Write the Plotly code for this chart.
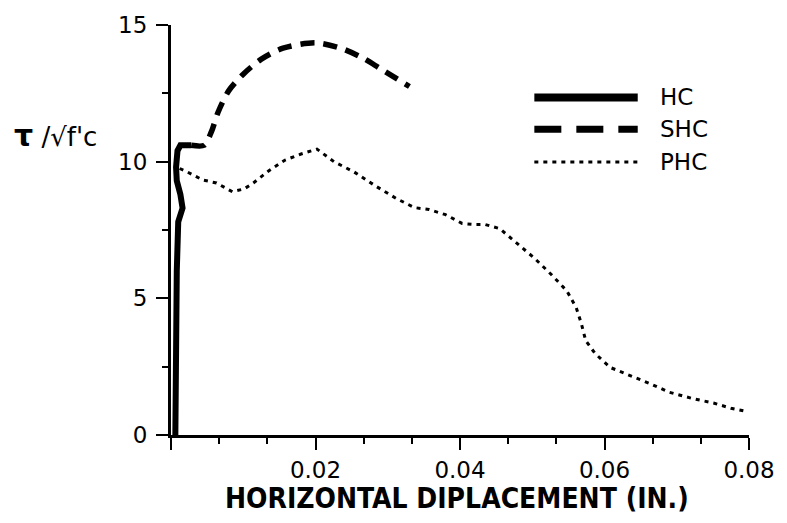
import plotly.graph_objects as go

# ---- data ----
hc_x = [0.0006, 0.0006, 0.0008, 0.0010, 0.0016, 0.0013, 0.0008, 0.0007, 0.0009, 0.0013, 0.0028]
hc_y = [0.0, 4.4, 6.0, 7.8, 8.3, 8.8, 9.3, 9.8, 10.4, 10.6, 10.6]

shc_x = [0.0028, 0.0046, 0.0056, 0.0065, 0.0080, 0.0100, 0.0125, 0.0155, 0.0200, 0.0235, 0.0265, 0.0290, 0.0330]
shc_y = [10.6, 10.6, 11.1, 11.8, 12.6, 13.2, 13.75, 14.15, 14.35, 14.15, 13.8, 13.4, 12.75]

phc_x = [0.0012, 0.0022, 0.0044, 0.0063, 0.0078, 0.0085, 0.0101, 0.0114, 0.0135, 0.0158,
         0.0180, 0.0202, 0.0226, 0.0253, 0.0285, 0.0312, 0.0337, 0.0357, 0.0380, 0.0403,
         0.0421, 0.0435, 0.0455, 0.0480, 0.0503, 0.0526, 0.0548, 0.0561, 0.0568, 0.0574,
         0.0587, 0.0608, 0.0635, 0.0662, 0.0690, 0.0721, 0.0752, 0.0775, 0.0795]
phc_y = [9.75, 9.63, 9.33, 9.22, 9.0, 8.9, 9.0, 9.22, 9.66, 10.06,
         10.28, 10.46, 9.99, 9.63, 9.08, 8.65, 8.32, 8.25, 8.06, 7.74,
         7.7, 7.7, 7.55, 7.0, 6.47, 5.88, 5.27, 4.65, 4.07, 3.45,
         2.98, 2.47, 2.18, 1.89, 1.56, 1.34, 1.16, 0.98, 0.87]

series_names = ["HC", "SHC", "PHC"]

x_tickvals = [0, 0.02, 0.04, 0.06, 0.08]
x_ticktext = ["", "0.02", "0.04", "0.06", "0.08"]
x_minor = [0.02 / 3 * k for k in range(1, 12) if k % 3 != 0]
y_tickvals = [0, 5, 10, 15]
y_ticktext = ["0", "5", "10", "15"]
y_minor = [2.5, 7.5, 12.5]

TICKFONT = dict(family="DejaVu Sans", size=23, color="black")

fig = go.Figure()
fig.add_trace(go.Scatter(x=hc_x, y=hc_y, mode="lines", name=series_names[0],
                         line=dict(color="black", width=6)))
fig.add_trace(go.Scatter(x=shc_x, y=shc_y, mode="lines", name=series_names[1],
                         line=dict(color="black", width=5.5, dash="14px,9px", shape="spline", smoothing=0.8)))
fig.add_trace(go.Scatter(x=phc_x, y=phc_y, mode="lines", name=series_names[2],
                         line=dict(color="black", width=3, dash="4px,5px")))

# legend drawn as samples + labels (long sample lines as in the reference)
L0, L1 = (540 - 171) / 587, (645 - 171) / 587
leg_y = [(435 - 95) / 413, (435 - 127) / 413, (435 - 160) / 413]
leg_styles = [dict(width=8, dash="solid"), dict(width=7, dash="27px,15px"), dict(width=3, dash="4px,5px")]
shapes = []
annotations = []
for name, yy, st in zip(series_names, leg_y, leg_styles):
    shapes.append(dict(type="line", xref="paper", yref="paper", x0=L0, x1=L1, y0=yy, y1=yy,
                       line=dict(color="black", width=st["width"], dash=st["dash"])))
    annotations.append(dict(xref="paper", yref="paper", x=(666 - 171) / 587, y=yy, text=name,
                            showarrow=False, xanchor="left", yanchor="middle",
                            font=TICKFONT))

annotations.append(dict(xref="paper", yref="paper", x=0.495, y=(435 - 499) / 413,
                        text="<b>HORIZONTAL DIPLACEMENT (IN.)</b>", showarrow=False,
                        xanchor="center", yanchor="middle",
                        font=dict(family="Liberation Sans Narrow, DejaVu Sans Condensed, DejaVu Sans", size=28, color="black")))
annotations.append(dict(xref="paper", yref="paper", x=(10 - 171) / 587, y=(435 - 133) / 413,
                        text="<b><span style='font-size:30px'>τ</span></b> /√f'c", showarrow=False,
                        xanchor="left", yanchor="middle",
                        font=dict(family="DejaVu Sans", size=26, color="black")))

fig.update_layout(
    width=787, height=523,
    margin=dict(l=171, r=29, t=22, b=88),
    paper_bgcolor="white", plot_bgcolor="white",
    showlegend=False,
    shapes=shapes, annotations=annotations,
    xaxis=dict(range=[0, 0.08], showgrid=False, zeroline=False,
               showline=True, linecolor="black", linewidth=3,
               ticks="outside", ticklen=12, tickwidth=2, tickcolor="black",
               tickvals=x_tickvals, ticktext=x_ticktext, tickfont=TICKFONT,
               ticklabelstandoff=0,
               minor=dict(tickvals=x_minor, ticks="outside", ticklen=6, tickwidth=2, tickcolor="black")),
    yaxis=dict(range=[0, 15], showgrid=False, zeroline=False,
               showline=True, linecolor="black", linewidth=3,
               ticks="outside", ticklen=12, tickwidth=2, tickcolor="black",
               tickvals=y_tickvals, ticktext=y_ticktext, tickfont=TICKFONT,
               ticklabelstandoff=4,
               minor=dict(tickvals=y_minor, ticks="outside", ticklen=6, tickwidth=2, tickcolor="black")),
)

fig.write_html("out.html")
